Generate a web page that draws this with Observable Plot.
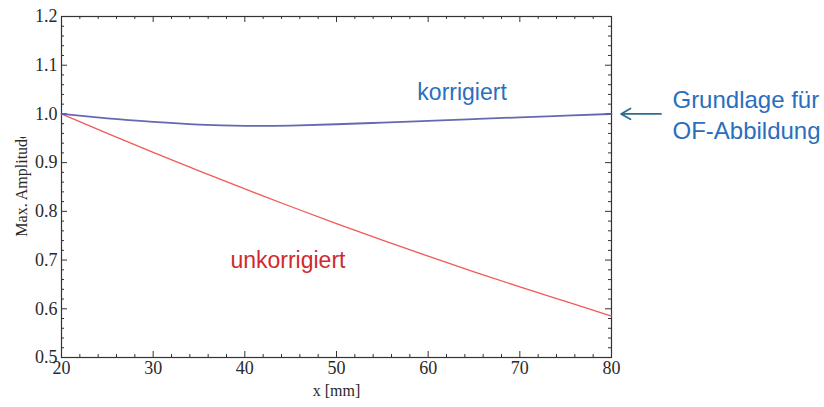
<!DOCTYPE html>
<html>
<head>
<meta charset="utf-8">
<script src="https://cdn.jsdelivr.net/npm/d3@7"></script>
<script src="https://cdn.jsdelivr.net/npm/@observablehq/plot@0.6"></script>
<style>
  html, body { margin: 0; padding: 0; background: #fff; }
  #chart g[aria-label="x-axis tick label"] text,
  #chart g[aria-label="y-axis tick label"] text {
    font-size: 18px !important;
    font-family: "Liberation Serif", "Times New Roman", serif !important;
  }
</style>
</head>
<body>
<div id="chart"></div>
<script>
// Data
const xs = [20, 25, 30, 35, 40, 45, 50, 55, 60, 65, 70, 75, 80];
const korrigiert = [1.000, 0.9910, 0.9838, 0.9782, 0.9755, 0.9760, 0.9788, 0.9822, 0.9858, 0.9894, 0.9930, 0.9965, 1.000];
const unkorrigiert = [1.000, 0.960, 0.921, 0.883, 0.846, 0.810, 0.775, 0.741, 0.708, 0.676, 0.645, 0.615, 0.585];

const xMajor = [20, 30, 40, 50, 60, 70, 80];
const xMinor = d3.range(22, 80, 2).filter(v => v % 10 !== 0);
const yMajor = [0.5, 0.6, 0.7, 0.8, 0.9, 1.0, 1.1, 1.2];
const yMinor = d3.range(0.52, 1.2, 0.02).map(v => +v.toFixed(2)).filter(v => Math.round(v * 100) % 10 !== 0);

const xLabel = "x [mm]";
const yLabel = "Max. Amplitude";

// annotations (data coordinates)
const seriesLabels = [
  {text: "korrigiert", x: 63.7, y: 1.044, color: "#2a6fbd"},
  {text: "unkorrigiert", x: 44.7, y: 0.699, color: "#d02a2e"}
];
const noteLines = [
  {text: "Grundlage für", x: 86.65, y: 1.0275},
  {text: "OF-Abbildung", x: 86.65, y: 0.964}
];
const arrowData = [{x1: 85.4, y1: 1.0, x2: 81.05, y2: 1.0}];

const W = 824, H = 407;
const mL = 61, mR = 213, mT = 16, mB = 50;
const innerH = H - mT - mB, innerW = W - mL - mR;
const major = 6, minor = 3;
const serif = "Liberation Serif, Times New Roman, serif";
const sans = "Liberation Sans, Arial, sans-serif";

const rowsK = xs.map((x, i) => ({x, y: korrigiert[i]}));
const rowsU = xs.map((x, i) => ({x, y: unkorrigiert[i]}));

const chart = Plot.plot({
  width: W, height: H,
  marginLeft: mL, marginRight: mR, marginTop: mT, marginBottom: mB,
  style: {fontFamily: serif, fontSize: "16px", color: "#333", background: "#fff"},
  x: {domain: [20, 80]},
  y: {domain: [0.5, 1.2]},
  marks: [
    Plot.axisX({ticks: xMajor, tickSize: 0, tickPadding: 4, tickFormat: d => String(d), label: null, fill: "#2a2a2a", fontFamily: serif, fontSize: 18}),
    Plot.axisY({ticks: yMajor, tickSize: 0, tickPadding: 4, tickFormat: d3.format(".1f"), label: null, fill: "#2a2a2a", fontFamily: serif, fontSize: 18}),
    // inward ticks, bottom & top
    Plot.tickX(xMajor, {x: d => d, insetTop: innerH - major, stroke: "#333"}),
    Plot.tickX(xMinor, {x: d => d, insetTop: innerH - minor, stroke: "#333"}),
    Plot.tickX(xMajor, {x: d => d, insetBottom: innerH - major, stroke: "#333"}),
    Plot.tickX(xMinor, {x: d => d, insetBottom: innerH - minor, stroke: "#333"}),
    // inward ticks, left & right
    Plot.tickY(yMajor, {y: d => d, insetRight: innerW - major, stroke: "#333"}),
    Plot.tickY(yMinor, {y: d => d, insetRight: innerW - minor, stroke: "#333"}),
    Plot.tickY(yMajor, {y: d => d, insetLeft: innerW - major, stroke: "#333"}),
    Plot.tickY(yMinor, {y: d => d, insetLeft: innerW - minor, stroke: "#333"}),
    Plot.frame({stroke: "#333", strokeWidth: 1.2}),
    Plot.line(rowsU, {x: "x", y: "y", curve: "natural", stroke: "#f05a5a", strokeWidth: 1.3}),
    Plot.line(rowsK, {x: "x", y: "y", curve: "natural", stroke: "#5558a8", strokeWidth: 1.8, strokeOpacity: 0.9}),
    Plot.text(seriesLabels, {x: "x", y: "y", text: "text", fill: "color", fontFamily: sans, fontSize: 23, textAnchor: "middle"}),
    Plot.text(noteLines, {x: "x", y: "y", text: "text", fill: "#2a6fbd", fontFamily: sans, fontSize: 24, textAnchor: "start"}),
    Plot.arrow(arrowData, {x1: "x1", y1: "y1", x2: "x2", y2: "y2", stroke: "#2b6f8c", strokeWidth: 1.8, headLength: 9}),
    Plot.text([xLabel], {frameAnchor: "bottom", text: d => d, dy: 38, fontFamily: serif, fontSize: 16, fill: "#2a2a2a"}),
    Plot.text([yLabel], {x: 20, y: 0.748, text: d => d, rotate: -90, textAnchor: "start", dx: -40, fontFamily: serif, fontSize: 16, fill: "#2a2a2a", className: "ylab"})
  ]
});

document.getElementById("chart").appendChild(chart);

const svg = d3.select(chart);
// clip the y label at its top as in the reference
const cid = "ylabclip";
svg.append("defs").append("clipPath").attr("id", cid).attr("clipPathUnits", "userSpaceOnUse")
  .append("rect").attr("x", 0).attr("y", 137).attr("width", 60).attr("height", 200);
svg.selectAll(".ylab").each(function () {
  const node = this;
  const wrap = document.createElementNS("http://www.w3.org/2000/svg", "g");
  wrap.setAttribute("clip-path", `url(#${cid})`);
  node.parentNode.insertBefore(wrap, node);
  wrap.appendChild(node);
});
</script>
</body>
</html>
